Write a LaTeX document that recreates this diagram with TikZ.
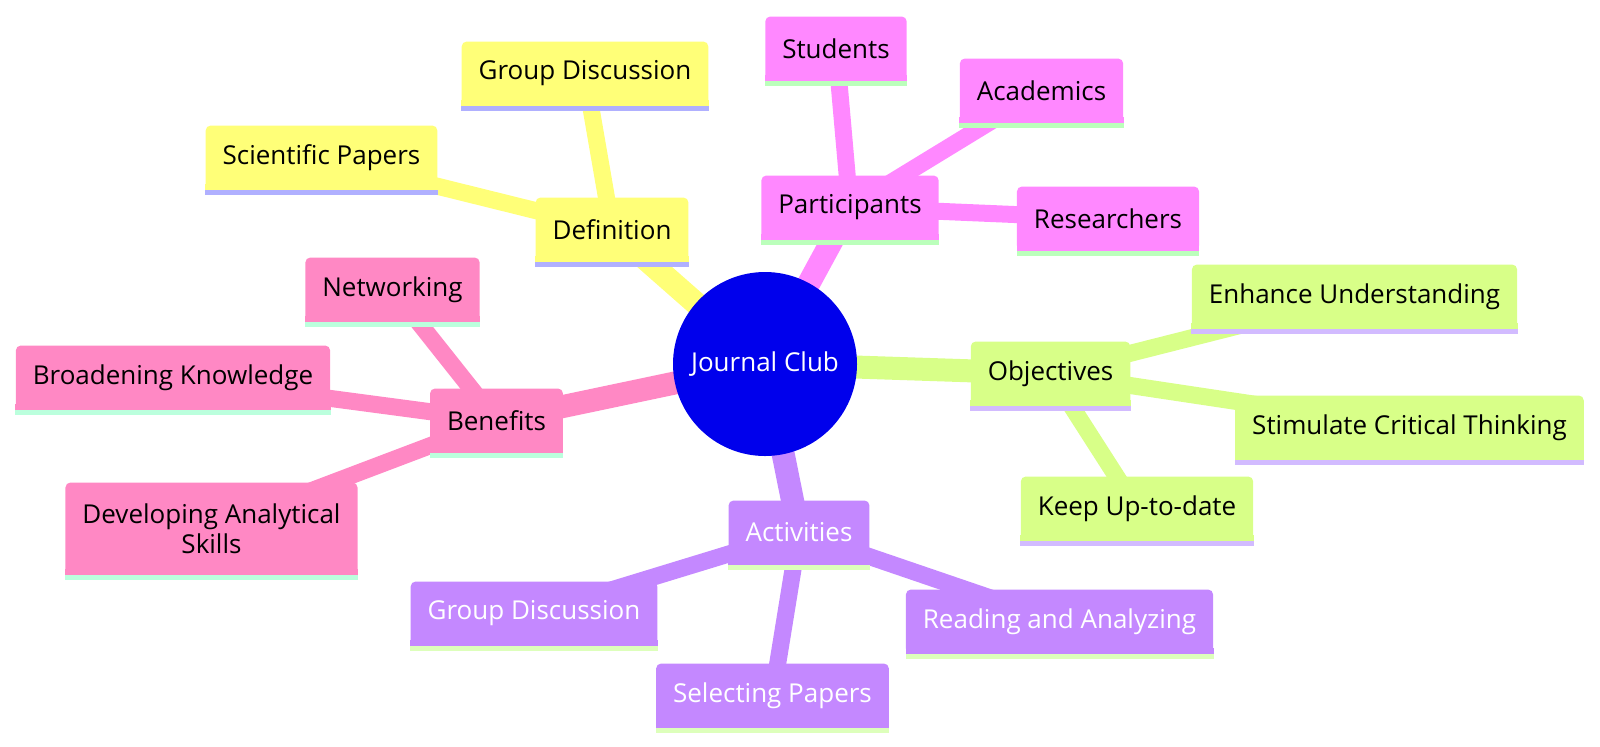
\documentclass[tikz,border=0pt]{standalone}
\usepackage{fontspec}
\setmainfont{Open Sans}
\usepackage{xcolor}
\definecolor{clubBlue}{HTML}{0000EC}
\definecolor{defYellow}{HTML}{FFFF78}
\definecolor{defLine}{HTML}{B0B0FF}
\definecolor{partPink}{HTML}{FF88FF}
\definecolor{partLine}{HTML}{BBFFBB}
\definecolor{objLime}{HTML}{D8FF88}
\definecolor{objLine}{HTML}{D2BBFF}
\definecolor{actPurple}{HTML}{C488FF}
\definecolor{actLine}{HTML}{DDFFBB}
\definecolor{benRose}{HTML}{FF88C4}
\definecolor{benLine}{HTML}{BBFFDD}
\usepackage{tikz}
\usetikzlibrary{backgrounds}

\begin{document}
\begin{tikzpicture}[
		x=0.5pt, y=-0.5pt,
		box/.style={
			rounded corners=2.5pt,
			minimum height=32pt,
			inner xsep=8.5pt,
			align=center,
			font=\fontsize{13pt}{15pt}\selectfont
		},
		root/.style={
			circle,
			fill=clubBlue,
			minimum size=92pt,
			inner sep=0pt,
			text=white,
			font=\fontsize{13pt}{15pt}\selectfont
		},
		trunk/.style={line width=11.5pt},
		twig/.style={line width=8.5pt}
		]
		
		\useasboundingbox (0,0) rectangle (1600,746);
		
		\node[root] (club) at (765,364) {Journal Club};
		
		% Definition
		\node[box, fill=defYellow] (def) at (612,229.5) {Definition};
		\node[box, fill=defYellow] (defGroup) at (585,73.5) {Group Discussion};
		\node[box, fill=defYellow] (defPapers) at (321.5,157.5) {Scientific Papers};
		
		% Participants
		\node[box, fill=partPink] (part) at (850,207.5) {Participants};
		\node[box, fill=partPink] (partStudents) at (836,48.5) {Students};
		\node[box, fill=partPink] (partAcad) at (1041.5,90.5) {Academics};
		\node[box, fill=partPink] (partRes) at (1108,218.5) {Researchers};
		
		% Objectives
		\node[box, fill=objLime] (obj) at (1050.5,373.5) {Objectives};
		\node[box, fill=objLime] (objEnhance) at (1354.5,296.5) {Enhance Understanding};
		\node[box, fill=objLime] (objThink) at (1409.5,427.5) {Stimulate Critical Thinking};
		\node[box, fill=objLime] (objUpdate) at (1137,508.5) {Keep Up-to-date};
		
		% Activities
		\node[box, fill=actPurple, text=white] (act) at (799,532.5) {Activities};
		\node[box, fill=actPurple, text=white] (actGroup) at (534,613.5) {Group Discussion};
		\node[box, fill=actPurple, text=white] (actSelect) at (772.5,695.5) {Selecting Papers};
		\node[box, fill=actPurple, text=white] (actRead) at (1059.5,621.5) {Reading and Analyzing};
		
		% Benefits
		\node[box, fill=benRose] (ben) at (496.5,420.5) {Benefits};
		\node[box, fill=benRose] (benNet) at (392.5,289.5) {Networking};
		\node[box, fill=benRose] (benBroad) at (173,377.5) {Broadening Knowledge};
		\node[box, fill=benRose, minimum height=46pt] (benSkills) at (211.5,528.5) {Developing Analytical\\Skills};
		
		\begin{scope}[on background layer]
			\draw[trunk, defYellow] (club.center) -- (def.center);
			\draw[trunk, partPink] (club.center) -- (part.center);
			\draw[trunk, objLime] (club.center) -- (obj.center);
			\draw[trunk, actPurple] (club.center) -- (act.center);
			\draw[trunk, benRose] (club.center) -- (ben.center);
			
			\draw[twig, defYellow] (def.center) -- (defGroup.center);
			\draw[twig, defYellow] (def.center) -- (defPapers.center);
			\draw[twig, partPink] (part.center) -- (partStudents.center);
			\draw[twig, partPink] (part.center) -- (partAcad.center);
			\draw[twig, partPink] (part.center) -- (partRes.center);
			\draw[twig, objLime] (obj.center) -- (objEnhance.center);
			\draw[twig, objLime] (obj.center) -- (objThink.center);
			\draw[twig, objLime] (obj.center) -- (objUpdate.center);
			\draw[twig, actPurple] (act.center) -- (actGroup.center);
			\draw[twig, actPurple] (act.center) -- (actSelect.center);
			\draw[twig, actPurple] (act.center) -- (actRead.center);
			\draw[twig, benRose] (ben.center) -- (benNet.center);
			\draw[twig, benRose] (ben.center) -- (benBroad.center);
			\draw[twig, benRose] (ben.center) -- (benSkills.center);
		\end{scope}
		
		% square lower corners and coloured base line
		\foreach \n/\f/\s in {def/defYellow/defLine, defGroup/defYellow/defLine, defPapers/defYellow/defLine,
			part/partPink/partLine, partStudents/partPink/partLine, partAcad/partPink/partLine, partRes/partPink/partLine,
			obj/objLime/objLine, objEnhance/objLime/objLine, objThink/objLime/objLine, objUpdate/objLime/objLine,
			act/actPurple/actLine, actGroup/actPurple/actLine, actSelect/actPurple/actLine, actRead/actPurple/actLine,
			ben/benRose/benLine, benNet/benRose/benLine, benBroad/benRose/benLine, benSkills/benRose/benLine}{
			\fill[\f] ([yshift=3pt]\n.south west) rectangle (\n.south east);
			\fill[\s] (\n.south west) rectangle ([yshift=-2.5pt]\n.south east);
		}
		
	\end{tikzpicture}
\end{document}
